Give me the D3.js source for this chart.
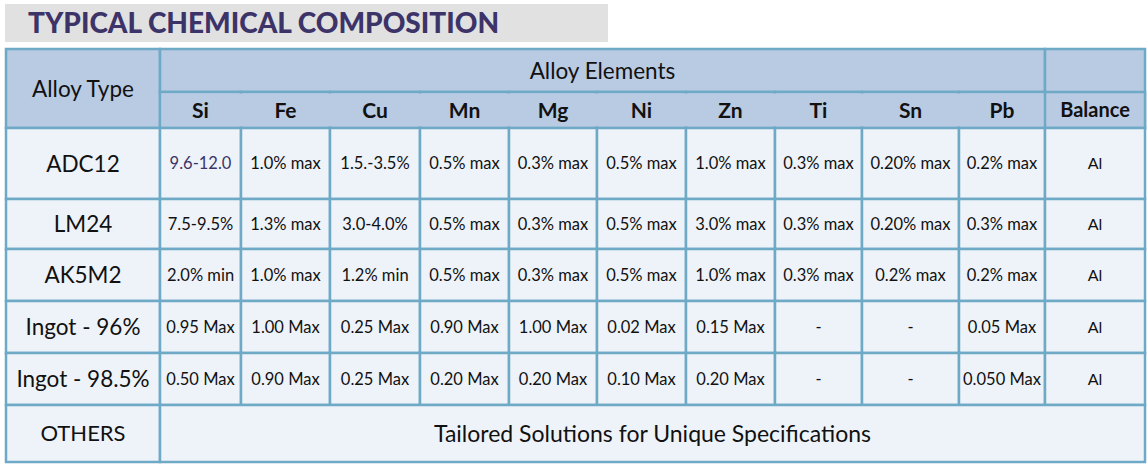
<!DOCTYPE html><html><head><meta charset="utf-8"><script src="https://cdn.jsdelivr.net/npm/d3@7"></script>
<style>body{margin:0;background:#fff}</style></head><body><svg id="c" width="1148" height="468"></svg><script>
const title="TYPICAL CHEMICAL COMPOSITION";
const elements=["Si","Fe","Cu","Mn","Mg","Ni","Zn","Ti","Sn","Pb"];
const alloys=["ADC12","LM24","AK5M2","Ingot - 96%","Ingot - 98.5%"];
const values=[
["9.6-12.0","1.0% max","1.5.-3.5%","0.5% max","0.3% max","0.5% max","1.0% max","0.3% max","0.20% max","0.2% max"],
["7.5-9.5%","1.3% max","3.0-4.0%","0.5% max","0.3% max","0.5% max","3.0% max","0.3% max","0.20% max","0.3% max"],
["2.0% min","1.0% max","1.2% min","0.5% max","0.3% max","0.5% max","1.0% max","0.3% max","0.2% max","0.2% max"],
["0.95 Max","1.00 Max","0.25 Max","0.90 Max","1.00 Max","0.02 Max","0.15 Max","-","-","0.05 Max"],
["0.50 Max","0.90 Max","0.25 Max","0.20 Max","0.20 Max","0.10 Max","0.20 Max","-","-","0.050 Max"]];
const balance=["Al","Al","Al","Al","Al"];
const othersLabel="OTHERS", othersText="Tailored Solutions for Unique Specifications";
const colX=[6,160,241,330,420,509,597,686,775,862,959,1045,1145];
const rowY=[49,92,128,199,249,301,353,405,462];
const svg=d3.select("#c"), F="Lato, 'Open Sans', sans-serif";
const hdr="#b9cae3", body="#eef3f9", bc="#6ea9c6", tc="#111";
svg.append("rect").attr("x",5).attr("y",4).attr("width",603).attr("height",38).attr("fill","#e1e1e1");
svg.append("text").attr("x",28).attr("y",33).attr("font-family",F).attr("font-weight",900).attr("font-size",28).attr("fill","#3c3468").text(title);
function cell(x0,x1,y0,y1,fill,txt,size,weight,color){
 svg.append("rect").attr("x",colX[x0]).attr("y",rowY[y0]).attr("width",colX[x1]-colX[x0]).attr("height",rowY[y1]-rowY[y0]).attr("fill",fill).attr("stroke",bc).attr("stroke-width",2.5);
 svg.append("text").attr("x",(colX[x0]+colX[x1])/2).attr("y",(rowY[y0]+rowY[y1])/2).attr("dy","0.36em").attr("text-anchor","middle")
  .attr("font-family",F).attr("font-size",size).attr("font-weight",weight||400).attr("fill",color||tc).text(txt);
}
cell(0,1,0,2,hdr,"Alloy Type",22.5);
cell(1,11,0,1,hdr,"Alloy Elements",22.5);
cell(11,12,0,2,hdr,"",20);
elements.forEach((e,i)=>cell(i+1,i+2,1,2,hdr,e,20,700));
cell(11,12,1,2,hdr,"Balance",20,700);
svg.append("rect").attr("x",colX[1]+1.5).attr("y",rowY[1]+1.5).attr("width",colX[11]-colX[1]-3).attr("height",rowY[2]-rowY[1]-3).attr("fill",hdr);
elements.forEach((e,i)=>svg.append("text").attr("x",(colX[i+1]+colX[i+2])/2).attr("y",118).attr("text-anchor","middle").attr("font-family",F).attr("font-size",21).attr("font-weight",700).attr("fill",tc).text(e));
alloys.forEach((a,r)=>{
 cell(0,1,r+2,r+3,body,a,22.5);
 values[r].forEach((v,c)=>cell(c+1,c+2,r+2,r+3,body,v,16.5,400,(r==0&&c==0)?"#3c3468":tc));
 cell(11,12,r+2,r+3,body,balance[r],16);
});
cell(0,1,7,8,body,othersLabel,22);
cell(1,12,7,8,body,othersText,23);
</script></body></html>
